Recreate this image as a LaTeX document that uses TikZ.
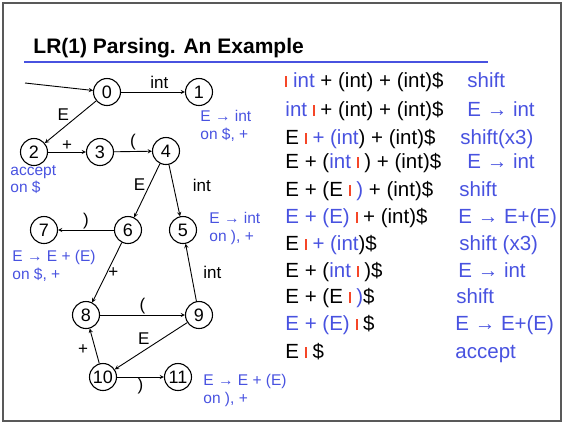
\documentclass[tikz,border=0pt]{standalone}
\usepackage{fontspec}
\setmainfont{Liberation Sans}
\usepackage{xcolor}
\definecolor{slideblue}{RGB}{72,82,224}
\definecolor{cursorred}{RGB}{245,70,40}
\newcommand{\cur}{\textcolor{cursorred}{\rule{2pt}{0.55em}}}
\newcommand{\blu}[1]{\textcolor{slideblue}{#1}}
\tikzset{
  state/.style={circle, draw, line width=1.1pt, minimum size=27pt, inner sep=0pt, font=\fontsize{18}{18}\selectfont},
  lab/.style={font=\fontsize{17}{17}\selectfont, inner sep=1pt},
  note/.style={text=slideblue, align=left, anchor=north west, inner sep=0pt, font=\fontsize{15.5}{17.5}\selectfont},
  row/.style={anchor=base west, inner sep=0pt, font=\fontsize{20.5}{20.5}\selectfont},
  act/.style={row, text=slideblue},
}

\begin{document}
\begin{tikzpicture}[x=1pt, y=-1pt, >=stealth, line width=0.9pt]
    \useasboundingbox (0,0) rectangle (564,424);
    \draw[line width=1.3pt, black!65] (3,3) rectangle (561,421);
    \node[anchor=base west, inner sep=0pt, font=\bfseries\fontsize{21}{21}\selectfont] (title) at (33,53.5) {LR(1) Parsing. An Example};
    \draw[slideblue, line width=2.5pt] (24,62) -- (488,62);

    % automaton
    \node[state] (s0) at (107,92) {0};
    \node[state] (s1) at (199,92) {1};
    \node[state] (s2) at (34,152) {2};
    \node[state] (s3) at (100,152) {3};
    \node[state] (s4) at (166,151) {4};
    \node[state] (s5) at (183,230) {5};
    \node[state] (s6) at (128,230) {6};
    \node[state] (s7) at (44,230) {7};
    \node[state] (s8) at (86,315) {8};
    \node[state] (s9) at (199,315) {9};
    \node[state] (s10) at (103,377) {10};
    \node[state] (s11) at (178,377) {11};
    \coordinate (start) at (25,83);

    \draw[->] (start) -- (s0);
    \draw[->] (s0) -- (s1) node[lab, pos=0.6, above, yshift=2pt] {int};
    \draw[->] (s0) -- (s2) node[lab, midway, above left] {E};
    \draw[->] (s2) -- (s3) node[lab, midway, above] {+};
    \draw[->] (s3) -- (s4) node[lab, midway, above] {(};
    \draw[->] (s4) -- (s6) node[lab, pos=0.4, left, xshift=-3pt] {E};
    \draw[->] (s4) -- (s5) node[lab, pos=0.4, right, xshift=18pt] {int};
    \draw[->] (s6) -- (s7) node[lab, midway, above] {)};
    \draw[->] (s6) -- (s8) node[lab, midway, right] {+};
    \draw[->] (s9) -- (s5) node[lab, midway, right, xshift=11pt] {int};
    \draw[->] (s8) -- (s9) node[lab, midway, above] {(};
    \draw[->] (s9) -- (s10) node[lab, midway, above left] {E};
    \draw[->] (s10) -- (s8) node[lab, midway, left, xshift=-5pt, yshift=-4pt] {+};
    \draw[->] (s10) -- (s11) node[lab, midway, below] {)};

    % reductions
    \node[note] (n1) at (200,110) {E → int\\on \$, +};
    \node[note] (n2) at (10,165) {accept\\on \$};
    \node[note] (n5) at (209,212) {E → int\\on ), +};
    \node[note] (n7) at (12,250) {E → E + (E)\\on \$, +};
    \node[note] (n11) at (203,374) {E → E + (E)\\on ), +};

    % parse trace
    \node[row] (r1) at (285,87) {\cur\ \blu{int} + (int) + (int)\$};
    \node[row] (r2) at (285,116) {\blu{int} \cur\ + (int) + (int)\$};
    \node[row] (r3) at (285,144) {E \cur\ \blu{+ (int}) + (int)\$};
    \node[row] (r4) at (285,168) {E + (\blu{int} \cur\ ) + (int)\$};
    \node[row] (r5) at (285,196) {E + (E \cur\ \blu{)} + (int)\$};
    \node[row] (r6) at (285,223) {\blu{E + (E)} \cur\ + (int)\$};
    \node[row] (r7) at (285,250) {E \cur\ \blu{+ (int})\$};
    \node[row] (r8) at (285,277) {E + (\blu{int} \cur\ )\$};
    \node[row] (r9) at (285,303) {E + (E \cur\ \blu{)}\$};
    \node[row] (r10) at (285,330) {\blu{E + (E)} \cur\ \$};
    \node[row] (r11) at (285,358) {E \cur\ \$};

    \node[act] (a1) at (467,87) {shift};
    \node[act] (a2) at (467,116) {E → int};
    \node[act] (a3) at (460,144) {shift(x3)};
    \node[act] (a4) at (467,168) {E → int};
    \node[act] (a5) at (459,196) {shift};
    \node[act] (a6) at (458,223) {E → E+(E)};
    \node[act] (a7) at (459,250) {shift (x3)};
    \node[act] (a8) at (458,277) {E → int};
    \node[act] (a9) at (456,303) {shift};
    \node[act] (a10) at (455,330) {E → E+(E)};
    \node[act] (a11) at (455,358) {accept};
\end{tikzpicture}
\end{document}
